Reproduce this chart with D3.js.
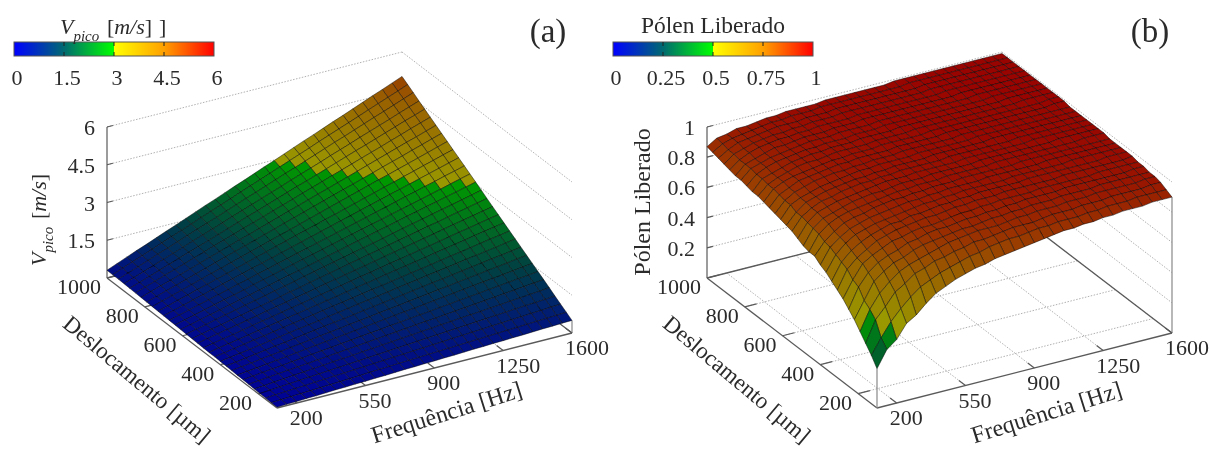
<!DOCTYPE html>
<html>
<head>
<meta charset="utf-8">
<script src="https://cdn.jsdelivr.net/npm/d3@7"></script>
<style>
html, body { margin: 0; padding: 0; background: #fff; }
svg { display: block; filter: blur(0.55px); }
text { font-family: "Liberation Serif", serif; fill: #2b2b2b; }
</style>
</head>
<body>
<div id="chart"></div>
<script>
// rows follow desloc, columns follow freqs
var freqs = [100,150,200,250,300,350,400,450,500,550,600,650,700,750,800,850,900,950,1000,1050,1100,1150,1200,1250,1300,1350,1400,1450,1500,1550,1600];
var desloc = [100,130,160,190,220,250,280,310,340,370,400,430,460,490,520,550,580,610,640,670,700,730,760,790,820,850,880,910,940,970,1000];

var freqTicks = [200,550,900,1250,1600];
var deslocTicks = [200,400,600,800,1000];
var vTicks = [1.5,3,4.5,6];
var polenTicks = [0.2,0.4,0.6,0.8,1];
var vBarTicks = ['0','1.5','3','4.5','6'];
var polenBarTicks = ['0','0.25','0.5','0.75','1'];

var vPico = [
[.03,.05,.06,.08,.09,.11,.13,.14,.16,.17,.19,.20,.22,.24,.25,.27,.28,.30,.31,.33,.35,.36,.38,.39,.41,.42,.44,.46,.47,.49,.50],
[.04,.06,.08,.10,.12,.14,.16,.18,.20,.22,.25,.27,.29,.31,.33,.35,.37,.39,.41,.43,.45,.47,.49,.51,.53,.55,.57,.59,.61,.63,.65],
[.05,.08,.10,.13,.15,.18,.20,.23,.25,.28,.30,.33,.35,.38,.40,.43,.45,.48,.50,.53,.55,.58,.60,.63,.65,.68,.70,.73,.75,.78,.80],
[.06,.09,.12,.15,.18,.21,.24,.27,.30,.33,.36,.39,.42,.45,.48,.51,.54,.57,.60,.63,.66,.69,.72,.75,.78,.81,.84,.87,.89,.92,.95],
[.07,.10,.14,.17,.21,.24,.28,.31,.35,.38,.41,.45,.48,.52,.55,.59,.62,.66,.69,.73,.76,.80,.83,.86,.90,.93,.97,1.00,1.04,1.07,1.11],
[.08,.12,.16,.20,.24,.27,.31,.35,.39,.43,.47,.51,.55,.59,.63,.67,.71,.75,.79,.82,.86,.90,.94,.98,1.02,1.06,1.10,1.14,1.18,1.22,1.26],
[.09,.13,.18,.22,.26,.31,.35,.40,.44,.48,.53,.57,.62,.66,.70,.75,.79,.84,.88,.92,.97,1.01,1.06,1.10,1.14,1.19,1.23,1.28,1.32,1.36,1.41],
[.10,.15,.19,.24,.29,.34,.39,.44,.49,.54,.58,.63,.68,.73,.78,.83,.88,.93,.97,1.02,1.07,1.12,1.17,1.22,1.27,1.32,1.36,1.41,1.46,1.51,1.56],
[.11,.16,.21,.27,.32,.37,.43,.48,.53,.59,.64,.69,.75,.80,.85,.91,.96,1.01,1.07,1.12,1.17,1.23,1.28,1.34,1.39,1.44,1.50,1.55,1.60,1.66,1.71],
[.12,.17,.23,.29,.35,.41,.46,.52,.58,.64,.70,.76,.81,.87,.93,.99,1.05,1.10,1.16,1.22,1.28,1.34,1.39,1.45,1.51,1.57,1.63,1.69,1.74,1.80,1.86],
[.13,.19,.25,.31,.38,.44,.50,.57,.63,.69,.75,.82,.88,.94,1.01,1.07,1.13,1.19,1.26,1.32,1.38,1.45,1.51,1.57,1.63,1.70,1.76,1.82,1.88,1.95,2.01],
[.14,.20,.27,.34,.41,.47,.54,.61,.68,.74,.81,.88,.95,1.01,1.08,1.15,1.22,1.28,1.35,1.42,1.49,1.55,1.62,1.69,1.76,1.82,1.89,1.96,2.03,2.09,2.16],
[.14,.22,.29,.36,.43,.51,.58,.65,.72,.79,.87,.94,1.01,1.08,1.16,1.23,1.30,1.37,1.45,1.52,1.59,1.66,1.73,1.81,1.88,1.95,2.02,2.10,2.17,2.24,2.31],
[.15,.23,.31,.38,.46,.54,.62,.69,.77,.85,.92,1.00,1.08,1.15,1.23,1.31,1.39,1.46,1.54,1.62,1.69,1.77,1.85,1.92,2.00,2.08,2.16,2.23,2.31,2.39,2.46],
[.16,.25,.33,.41,.49,.57,.65,.74,.82,.90,.98,1.06,1.14,1.23,1.31,1.39,1.47,1.55,1.63,1.72,1.80,1.88,1.96,2.04,2.12,2.21,2.29,2.37,2.45,2.53,2.61],
[.17,.26,.35,.43,.52,.60,.69,.78,.86,.95,1.04,1.12,1.21,1.30,1.38,1.47,1.56,1.64,1.73,1.81,1.90,1.99,2.07,2.16,2.25,2.33,2.42,2.51,2.59,2.68,2.76],
[.18,.27,.36,.46,.55,.64,.73,.82,.91,1.00,1.09,1.18,1.28,1.37,1.46,1.55,1.64,1.73,1.82,1.91,2.00,2.10,2.19,2.28,2.37,2.46,2.55,2.64,2.73,2.82,2.92],
[.19,.29,.38,.48,.57,.67,.77,.86,.96,1.05,1.15,1.25,1.34,1.44,1.53,1.63,1.72,1.82,1.92,2.01,2.11,2.20,2.30,2.40,2.49,2.59,2.68,2.78,2.87,2.97,3.07],
[.20,.30,.40,.50,.60,.70,.80,.90,1.01,1.11,1.21,1.31,1.41,1.51,1.61,1.71,1.81,1.91,2.01,2.11,2.21,2.31,2.41,2.51,2.61,2.71,2.81,2.91,3.02,3.12,3.22],
[.21,.32,.42,.53,.63,.74,.84,.95,1.05,1.16,1.26,1.37,1.47,1.58,1.68,1.79,1.89,2.00,2.10,2.21,2.31,2.42,2.52,2.63,2.74,2.84,2.95,3.05,3.16,3.26,3.37],
[.22,.33,.44,.55,.66,.77,.88,.99,1.10,1.21,1.32,1.43,1.54,1.65,1.76,1.87,1.98,2.09,2.20,2.31,2.42,2.53,2.64,2.75,2.86,2.97,3.08,3.19,3.30,3.41,3.52],
[.23,.34,.46,.57,.69,.80,.92,1.03,1.15,1.26,1.38,1.49,1.61,1.72,1.84,1.95,2.06,2.18,2.29,2.41,2.52,2.64,2.75,2.87,2.98,3.10,3.21,3.33,3.44,3.56,3.67],
[.24,.36,.48,.60,.72,.84,.96,1.07,1.19,1.31,1.43,1.55,1.67,1.79,1.91,2.03,2.15,2.27,2.39,2.51,2.63,2.75,2.87,2.99,3.10,3.22,3.34,3.46,3.58,3.70,3.82],
[.25,.37,.50,.62,.74,.87,.99,1.12,1.24,1.37,1.49,1.61,1.74,1.86,1.99,2.11,2.23,2.36,2.48,2.61,2.73,2.85,2.98,3.10,3.23,3.35,3.47,3.60,3.72,3.85,3.97],
[.26,.39,.52,.64,.77,.90,1.03,1.16,1.29,1.42,1.55,1.67,1.80,1.93,2.06,2.19,2.32,2.45,2.58,2.70,2.83,2.96,3.09,3.22,3.35,3.48,3.61,3.74,3.86,3.99,4.12],
[.27,.40,.53,.67,.80,.93,1.07,1.20,1.34,1.47,1.60,1.74,1.87,2.00,2.14,2.27,2.40,2.54,2.67,2.80,2.94,3.07,3.20,3.34,3.47,3.60,3.74,3.87,4.01,4.14,4.27],
[.28,.41,.55,.69,.83,.97,1.11,1.24,1.38,1.52,1.66,1.80,1.94,2.07,2.21,2.35,2.49,2.63,2.76,2.90,3.04,3.18,3.32,3.46,3.59,3.73,3.87,4.01,4.15,4.28,4.42],
[.29,.43,.57,.71,.86,1.00,1.14,1.29,1.43,1.57,1.71,1.86,2.00,2.14,2.29,2.43,2.57,2.72,2.86,3.00,3.14,3.29,3.43,3.57,3.72,3.86,4.00,4.14,4.29,4.43,4.57],
[.30,.44,.59,.74,.89,1.03,1.18,1.33,1.48,1.62,1.77,1.92,2.07,2.22,2.36,2.51,2.66,2.81,2.95,3.10,3.25,3.40,3.55,3.69,3.84,3.99,4.14,4.28,4.43,4.58,4.73],
[.30,.46,.61,.76,.91,1.07,1.22,1.37,1.52,1.68,1.83,1.98,2.13,2.29,2.44,2.59,2.74,2.90,3.05,3.20,3.35,3.51,3.66,3.81,3.96,4.11,4.27,4.42,4.57,4.72,4.88],
[.31,.47,.63,.79,.94,1.10,1.26,1.41,1.57,1.73,1.89,2.04,2.20,2.36,2.51,2.67,2.83,2.98,3.14,3.30,3.46,3.61,3.77,3.93,4.08,4.24,4.40,4.56,4.71,4.87,5.03]
];

var polen = [
[.26,.37,.42,.51,.55,.61,.66,.69,.72,.74,.76,.77,.79,.80,.81,.82,.83,.84,.85,.86,.86,.87,.87,.88,.88,.89,.89,.89,.90,.90,.90],
[.32,.42,.51,.58,.64,.69,.72,.75,.77,.79,.81,.82,.84,.85,.86,.86,.87,.88,.88,.89,.89,.89,.90,.90,.91,.91,.91,.92,.92,.92,.92],
[.37,.51,.58,.66,.70,.75,.77,.80,.81,.83,.84,.86,.86,.87,.88,.89,.89,.89,.90,.91,.91,.91,.92,.92,.92,.93,.93,.93,.93,.94,.94],
[.42,.55,.64,.70,.75,.78,.80,.82,.84,.86,.87,.88,.89,.89,.89,.90,.91,.91,.92,.92,.92,.93,.93,.93,.94,.94,.94,.94,.94,.95,.95],
[.47,.58,.69,.74,.78,.80,.83,.85,.86,.87,.88,.89,.89,.90,.91,.91,.92,.92,.93,.93,.93,.94,.94,.94,.94,.95,.95,.95,.95,.95,.95],
[.51,.64,.72,.77,.80,.82,.85,.86,.88,.89,.89,.90,.91,.91,.92,.92,.93,.93,.94,.94,.94,.94,.95,.95,.95,.95,.95,.95,.95,.96,.96],
[.55,.66,.75,.79,.82,.85,.86,.88,.89,.89,.90,.91,.92,.92,.93,.93,.94,.94,.94,.94,.95,.95,.95,.95,.95,.95,.96,.96,.96,.96,.96],
[.58,.70,.76,.80,.84,.86,.88,.89,.90,.91,.91,.92,.93,.93,.94,.94,.94,.95,.95,.95,.95,.95,.95,.96,.96,.96,.96,.96,.96,.96,.97],
[.61,.72,.78,.82,.85,.87,.89,.89,.91,.91,.92,.93,.93,.94,.94,.95,.95,.95,.95,.95,.96,.96,.96,.96,.96,.96,.96,.96,.97,.97,.97],
[.64,.74,.80,.84,.86,.88,.89,.90,.91,.92,.93,.93,.94,.94,.95,.95,.95,.95,.95,.96,.96,.96,.96,.96,.96,.97,.97,.97,.97,.97,.97],
[.66,.76,.81,.85,.87,.89,.90,.91,.92,.93,.93,.94,.94,.95,.95,.95,.95,.96,.96,.96,.96,.96,.96,.97,.97,.97,.97,.97,.97,.97,.97],
[.69,.77,.82,.86,.88,.89,.91,.92,.93,.93,.94,.94,.95,.95,.95,.96,.96,.96,.96,.96,.96,.97,.97,.97,.97,.97,.97,.97,.97,.97,.97],
[.69,.79,.84,.87,.89,.90,.91,.92,.93,.94,.94,.95,.95,.95,.96,.96,.96,.96,.96,.97,.97,.97,.97,.97,.97,.97,.97,.97,.98,.98,.98],
[.70,.80,.85,.87,.89,.91,.92,.93,.93,.94,.95,.95,.95,.96,.96,.96,.96,.96,.97,.97,.97,.97,.97,.97,.97,.97,.98,.98,.98,.98,.98],
[.72,.81,.86,.88,.90,.91,.92,.93,.94,.95,.95,.95,.96,.96,.96,.96,.96,.97,.97,.97,.97,.97,.97,.97,.98,.98,.98,.98,.98,.98,.98],
[.74,.82,.86,.89,.90,.92,.93,.94,.94,.95,.95,.96,.96,.96,.96,.96,.97,.97,.97,.97,.97,.97,.97,.98,.98,.98,.98,.98,.98,.98,.98],
[.75,.82,.87,.89,.91,.92,.93,.94,.94,.95,.95,.96,.96,.96,.96,.97,.97,.97,.97,.97,.97,.98,.98,.98,.98,.98,.98,.98,.98,.98,.98],
[.76,.84,.87,.89,.91,.92,.93,.94,.95,.95,.96,.96,.96,.96,.97,.97,.97,.97,.97,.97,.98,.98,.98,.98,.98,.98,.98,.98,.98,.98,.98],
[.77,.84,.88,.90,.92,.93,.94,.94,.95,.95,.96,.96,.96,.97,.97,.97,.97,.97,.97,.98,.98,.98,.98,.98,.98,.98,.98,.98,.98,.98,.98],
[.78,.85,.88,.91,.92,.93,.94,.95,.95,.96,.96,.96,.96,.97,.97,.97,.97,.97,.98,.98,.98,.98,.98,.98,.98,.98,.98,.98,.98,.99,.99],
[.79,.86,.89,.91,.92,.93,.94,.95,.95,.96,.96,.96,.97,.97,.97,.97,.97,.98,.98,.98,.98,.98,.98,.98,.98,.98,.98,.98,.98,.99,.99],
[.80,.86,.89,.91,.93,.94,.94,.95,.96,.96,.96,.96,.97,.97,.97,.97,.98,.98,.98,.98,.98,.98,.98,.98,.98,.98,.98,.99,.99,.99,.99],
[.80,.87,.89,.91,.93,.94,.95,.95,.96,.96,.96,.97,.97,.97,.97,.98,.98,.98,.98,.98,.98,.98,.98,.98,.98,.98,.99,.99,.99,.99,.99],
[.81,.87,.90,.92,.93,.94,.95,.95,.96,.96,.96,.97,.97,.97,.98,.98,.98,.98,.98,.98,.98,.98,.98,.98,.98,.99,.99,.99,.99,.99,.99],
[.82,.88,.90,.92,.93,.94,.95,.96,.96,.96,.97,.97,.97,.97,.98,.98,.98,.98,.98,.98,.98,.98,.98,.98,.99,.99,.99,.99,.99,.99,.99],
[.82,.88,.90,.92,.94,.94,.95,.96,.96,.96,.97,.97,.97,.98,.98,.98,.98,.98,.98,.98,.98,.98,.98,.99,.99,.99,.99,.99,.99,.99,.99],
[.83,.88,.91,.93,.94,.95,.95,.96,.96,.97,.97,.97,.97,.98,.98,.98,.98,.98,.98,.98,.98,.98,.99,.99,.99,.99,.99,.99,.99,.99,.99],
[.84,.89,.91,.93,.94,.95,.95,.96,.96,.97,.97,.97,.98,.98,.98,.98,.98,.98,.98,.98,.98,.99,.99,.99,.99,.99,.99,.99,.99,.99,.99],
[.85,.89,.92,.93,.94,.95,.96,.96,.96,.97,.97,.97,.98,.98,.98,.98,.98,.98,.98,.98,.98,.99,.99,.99,.99,.99,.99,.99,.99,.99,.99],
[.86,.90,.92,.93,.94,.95,.96,.96,.97,.97,.97,.98,.98,.98,.98,.98,.98,.98,.98,.98,.99,.99,.99,.99,.99,.99,.99,.99,.99,.99,.99],
[.87,.91,.92,.94,.94,.95,.96,.96,.97,.97,.97,.97,.98,.98,.98,.98,.98,.98,.98,.99,.99,.99,.99,.99,.99,.99,.99,.99,.99,.99,.99]
];

var width = 1215, height = 453;

var svg = d3.select('#chart').append('svg')
    .attr('width', width)
    .attr('height', height);

// pm3d style palette with the jump from green to yellow in the middle
var lowColor = d3.scaleLinear().domain([0, 0.25, 0.5]).range(['#0000ff', '#006a70', '#00ff00']);
var highColor = d3.scaleLinear().domain([0.5, 0.75, 1]).range(['#ffff00', '#ffa000', '#ff0000']);

function palette(t) {
    return t < 0.5 ? lowColor(t) : highColor(t);
}

// the mesh in the reference is fine enough to dull the whole surface
function shaded(t) {
    var c = d3.rgb(palette(t));
    return d3.rgb(c.r * 0.6, c.g * 0.6, c.b * 0.6).formatRgb();
}

var gradient = svg.append('defs').append('linearGradient').attr('id', 'barGrad');
[0, 0.125, 0.25, 0.375, 0.4999, 0.5, 0.625, 0.75, 0.875, 1].forEach(function(t) {
    gradient.append('stop').attr('offset', t).attr('stop-color', palette(t));
});

function label(group, x, y, text, size, anchor) {
    return group.append('text')
        .attr('x', x)
        .attr('y', y)
        .attr('font-size', size)
        .attr('text-anchor', anchor || 'middle')
        .text(text);
}

function drawBar(group, cfg) {
    var barX = d3.scaleLinear().domain([0, 1]).range([cfg.barLeft, cfg.barLeft + 200]);
    group.append('rect')
        .attr('x', barX(0))
        .attr('y', 42)
        .attr('width', barX(1) - barX(0))
        .attr('height', 14)
        .attr('fill', 'url(#barGrad)')
        .attr('stroke', '#555')
        .attr('stroke-width', 1);
    cfg.barLabels.forEach(function(t, i) {
        var pos = barX(i / 4);
        if (i > 0 && i < 4) {
            group.append('line')
                .attr('x1', pos).attr('x2', pos)
                .attr('y1', 42).attr('y2', 56)
                .attr('stroke', '#222')
                .attr('stroke-dasharray', '4 6');
        }
        label(group, pos + 3, 85, t, 22);
    });
}

function drawPanel(cfg) {
    var group = svg.append('g');
    var x0 = cfg.originX, y0 = 408;

    var fX = d3.scaleLinear().domain([100, 1600]).range([0, 295]);
    var fY = d3.scaleLinear().domain([100, 1600]).range([0, -75]);
    var dX = d3.scaleLinear().domain([100, 1000]).range([0, -170]);
    var dY = d3.scaleLinear().domain([100, 1000]).range([0, -130]);
    var zY = d3.scaleLinear().domain([0, cfg.zMax]).range([0, -151]);

    function project(f, d, z) {
        return [x0 + fX(f) + dX(d), y0 + fY(f) + dY(d) + zY(z)];
    }

    function seg(p, q, color, widthPx, dash) {
        group.append('line')
            .attr('x1', p[0]).attr('y1', p[1])
            .attr('x2', q[0]).attr('y2', q[1])
            .attr('stroke', color)
            .attr('stroke-width', widthPx)
            .attr('stroke-dasharray', dash || null);
    }

    var gridColor = '#a8a8a8', gridDash = '1.5 1.5', axisColor = '#5a5a5a';

    // floor grid
    cfg.freqTicks.forEach(function(f) {
        seg(project(f, 100, 0), project(f, 1000, 0), gridColor, 0.9, gridDash);
    });
    cfg.deslocTicks.forEach(function(d) {
        seg(project(100, d, 0), project(1600, d, 0), gridColor, 0.9, gridDash);
    });

    // back walls
    cfg.zTicks.forEach(function(z) {
        seg(project(100, 1000, z), project(1600, 1000, z), gridColor, 0.9, gridDash);
        seg(project(1600, 1000, z), project(1600, 100, z), gridColor, 0.9, gridDash);
    });

    // floor borders
    seg(project(100, 100, 0), project(1600, 100, 0), axisColor, 1.3);
    seg(project(100, 100, 0), project(100, 1000, 0), axisColor, 1.3);
    seg(project(1600, 100, 0), project(1600, 1000, 0), axisColor, 1.3);
    seg(project(100, 1000, 0), project(1600, 1000, 0), axisColor, 1.3);

    // verticals
    seg(project(100, 1000, 0), project(100, 1000, cfg.zMax), axisColor, 1.2);
    seg(project(100, 100, 0), project(100, 100, cfg.values[0][0]), '#888', 1.2);
    seg(project(1600, 100, 0), project(1600, 100, cfg.values[0][freqs.length - 1]), '#888', 1.2);

    // ticks
    cfg.freqTicks.forEach(function(f) {
        var p = project(f, 100, 0), q = project(f, 135, 0);
        seg(p, q, axisColor, 1.2);
        label(group, p[0] - 7, p[1] + 22, f, 22, 'start');
    });
    cfg.deslocTicks.forEach(function(d) {
        var p = project(100, d, 0), q = project(160, d, 0);
        seg(p, q, axisColor, 1.2);
        label(group, p[0] - 6, p[1] + 16, d, 22, 'end');
    });
    cfg.zTicks.forEach(function(z) {
        var p = project(100, 1000, z), q = project(130, 1000, z);
        seg(p, q, axisColor, 1.2);
        label(group, p[0] - 12, p[1] + 8, z, 22, 'end');
    });

    // surface, back cells first
    var cells = group.append('g');
    for (var j = desloc.length - 2; j >= 0; j--) {
        for (var i = freqs.length - 2; i >= 0; i--) {
            var corners = [
                project(freqs[i], desloc[j], cfg.values[j][i]),
                project(freqs[i + 1], desloc[j], cfg.values[j][i + 1]),
                project(freqs[i + 1], desloc[j + 1], cfg.values[j + 1][i + 1]),
                project(freqs[i], desloc[j + 1], cfg.values[j + 1][i])
            ];
            var mean = (cfg.values[j][i] + cfg.values[j][i + 1] + cfg.values[j + 1][i + 1] + cfg.values[j + 1][i]) / 4;
            cells.append('path')
                .attr('d', d3.line()(corners) + 'Z')
                .attr('fill', shaded(mean / cfg.zMax))
                .attr('stroke', '#000')
                .attr('stroke-opacity', 0.5)
                .attr('stroke-width', 0.9);
        }
    }

    drawBar(group, cfg);
    cfg.decorate(group);
    label(group, cfg.letterX, 42, cfg.letter, 33);
}

function angled(group, x, y, angle, text, size) {
    return group.append('text')
        .attr('transform', 'translate(' + x + ',' + y + ') rotate(' + angle + ')')
        .attr('font-size', size)
        .attr('text-anchor', 'middle')
        .text(text);
}

function vPicoText(group, transform, size) {
    var t = group.append('text')
        .attr('transform', transform)
        .attr('font-size', size);
    t.append('tspan').attr('font-style', 'italic').text('V');
    t.append('tspan').attr('font-style', 'italic').attr('font-size', size * 0.68).attr('dy', size * 0.32).text('pico');
    t.append('tspan').attr('dy', -size * 0.32).attr('dx', size * 0.35).text('[');
    t.append('tspan').attr('font-style', 'italic').text('m/s');
    t.append('tspan').text(']');
    return t;
}

drawPanel({
    originX: 277,
    zMax: 6,
    values: vPico,
    freqTicks: freqTicks,
    deslocTicks: deslocTicks,
    zTicks: vTicks,
    barLeft: 14,
    barLabels: vBarTicks,
    letter: '(a)',
    letterX: 548,
    decorate: function(group) {
        angled(group, 132, 385, 40, 'Deslocamento [µm]', 23);
        angled(group, 449, 420, -17.5, 'Frequência [Hz]', 24);
        vPicoText(group, 'translate(46,266) rotate(-90)', 22);
        var t = vPicoText(group, 'translate(60,34)', 22);
        t.append('tspan').attr('dx', 7).text(']');
    }
});

drawPanel({
    originX: 877,
    zMax: 1,
    values: polen,
    freqTicks: freqTicks,
    deslocTicks: deslocTicks,
    zTicks: polenTicks,
    barLeft: 613,
    barLabels: polenBarTicks,
    letter: '(b)',
    letterX: 1150,
    decorate: function(group) {
        angled(group, 732, 385, 40, 'Deslocamento [µm]', 23);
        angled(group, 1049, 420, -17.5, 'Frequência [Hz]', 24);
        angled(group, 650, 202, -90, 'Pólen Liberado', 24);
        label(group, 713, 33, 'Pólen Liberado', 23.5);
    }
});
</script>
</body>
</html>
